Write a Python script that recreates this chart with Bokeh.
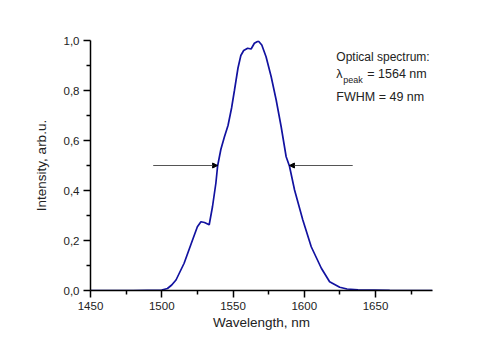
from bokeh.plotting import figure
from bokeh.models import Range1d, Label, Arrow, NormalHead, FixedTicker
from bokeh.embed import file_html
from bokeh.resources import INLINE

# Spectrum data
wavelength = [1450, 1480, 1500, 1504, 1507, 1510, 1515.7, 1521.6, 1525, 1527.5, 1530,
              1533.3, 1535.6, 1538, 1539.2, 1540.3, 1541.5, 1544, 1546.5, 1549, 1551,
              1553.5, 1555.5, 1557.5, 1560.3, 1562.7, 1565, 1567.8, 1570.2, 1573.2,
              1576.8, 1580.3, 1583.8, 1587.3, 1589.6, 1593.2, 1599, 1604.9, 1612,
              1617.8, 1624.9, 1630, 1637.7, 1660, 1690]
intensity = [0, 0, 0.002, 0.008, 0.022, 0.042, 0.109, 0.202, 0.255, 0.275, 0.272,
             0.263, 0.335, 0.43, 0.498, 0.53, 0.565, 0.615, 0.66, 0.73, 0.80,
             0.89, 0.94, 0.96, 0.969, 0.966, 0.989, 0.998, 0.982, 0.935,
             0.855, 0.762, 0.655, 0.535, 0.498, 0.402, 0.282, 0.175, 0.089,
             0.035, 0.013, 0.006, 0.003, 0.001, 0]

# FWHM markers
half_max = 0.5
fwhm_left = 1539.2
fwhm_right = 1589.6
arrow_left_tail = 1494
arrow_right_tail = 1634

x_ticks = [1450, 1500, 1550, 1600, 1650]
y_ticks = [0.0, 0.2, 0.4, 0.6, 0.8, 1.0]
y_tick_labels = {0.0: "0,0", 0.2: "0,2", 0.4: "0,4", 0.6: "0,6", 0.8: "0,8", 1.0: "1,0"}

FONT = "Liberation Sans"

p = figure(width=500, height=349, frame_width=342, frame_height=250,
           x_range=Range1d(1450, 1690), y_range=Range1d(0, 1.0),
           output_backend="svg", toolbar_location=None,
           min_border_left=90, min_border_right=68, min_border_top=40, min_border_bottom=59)

p.background_fill_color = "white"
p.border_fill_color = "white"
p.outline_line_color = None
p.xgrid.visible = False
p.ygrid.visible = False

p.line(wavelength, intensity, line_color="#1212a0", line_width=1.7)

for ax in (p.xaxis[0], p.yaxis[0]):
    ax.axis_line_color = "black"
    ax.axis_line_width = 1.5
    ax.major_tick_line_color = "black"
    ax.major_tick_line_width = 1.5
    ax.minor_tick_line_color = "black"
    ax.minor_tick_line_width = 1.5
    ax.major_tick_out = 7
    ax.major_tick_in = 0
    ax.minor_tick_out = 4
    ax.minor_tick_in = 0
    ax.major_label_text_font = FONT
    ax.major_label_text_font_size = "11.5px"
    ax.major_label_text_color = "#222222"
    ax.axis_label_text_font = FONT
    ax.axis_label_text_font_size = "13.5px"
    ax.axis_label_text_font_style = "normal"
    ax.axis_label_text_color = "#222222"
    ax.major_label_standoff = 4

p.xaxis.ticker = FixedTicker(ticks=x_ticks, minor_ticks=[1475, 1525, 1575, 1625, 1675])
p.yaxis.ticker = FixedTicker(ticks=y_ticks, minor_ticks=[0.1, 0.3, 0.5, 0.7, 0.9])
p.yaxis.major_label_overrides = y_tick_labels
p.xaxis.axis_label = "Wavelength, nm"
p.yaxis.axis_label = "Intensity, arb.u."
p.xaxis.axis_label_standoff = 2
p.yaxis.axis_label_standoff = 12

# FWHM arrows
for tail, head in ((arrow_left_tail, fwhm_left), (arrow_right_tail, fwhm_right)):
    p.add_layout(Arrow(end=NormalHead(size=5, fill_color="black", line_color="black", line_width=1),
                       x_start=tail, y_start=half_max, x_end=head, y_end=half_max,
                       line_color="#555555", line_width=1.2))

# Annotation text
tx = 1622.5
txt = dict(text_font=FONT, text_color="#222222", text_baseline="middle")
p.add_layout(Label(x=tx, y=0.934, text="Optical spectrum:", text_font_size="12px", **txt))
p.add_layout(Label(x=tx, y=0.866, text="λ", text_font_size="12.5px", **txt))
p.add_layout(Label(x=tx, y=0.842, x_offset=7, text="peak", text_font_size="9px", **txt))
p.add_layout(Label(x=tx, y=0.866, x_offset=31, text="= 1564 nm", text_font_size="12.5px", **txt))
p.add_layout(Label(x=tx, y=0.774, text="FWHM = 49 nm", text_font_size="12.5px", **txt))

open("out.html", "w").write(file_html(p, INLINE))
